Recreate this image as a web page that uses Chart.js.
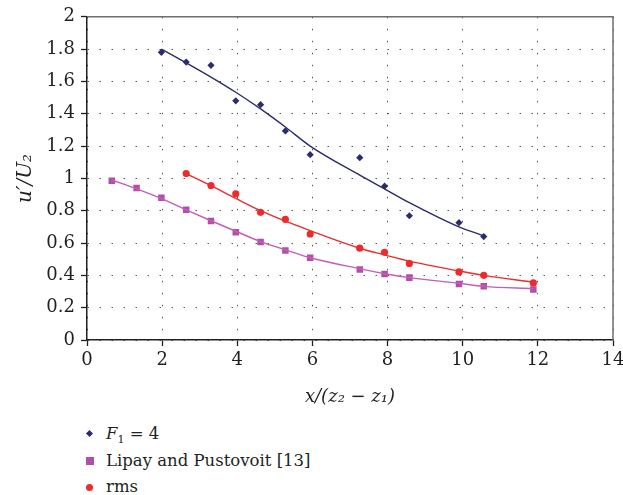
<!DOCTYPE html>
<html>
<head>
<meta charset="utf-8">
<script src="https://cdn.jsdelivr.net/npm/chart.js@4.4.1/dist/chart.umd.min.js"></script>
<style>
  body { margin: 0; background: #fff; }
  #wrap { position: relative; width: 623px; height: 495px; }
  #box { position: absolute; left: 0; top: 0; width: 623px; height: 408px; }
  #legend { position: absolute; left: 84px; top: 421px; font: 16.5px 'DejaVu Serif', serif; color: #231f20; }
  #legend div { height: 26.5px; line-height: 26px; white-space: nowrap; }
  #legend .mk { display: inline-block; width: 22px; position: relative; height: 10px; }
  #legend .mk span { position: absolute; left: 3px; top: 2px; }
  .dia { width: 5px; height: 5px; background: #2b2c6e; transform: rotate(45deg); }
  .sq { width: 8px; height: 8px; background: #b34ea6; left: 2px !important; top: 1px !important; }
  .ci { width: 7px; height: 7px; border-radius: 50%; background: #ee2a2a; left: 2px !important; top: 2px !important; }
  sub { font-size: 11px; }
</style>
</head>
<body>
<div id="wrap">
  <div id="box"><canvas id="myChart"></canvas></div>
  <div id="legend">
    <div><span class="mk"><span class="dia"></span></span><i>F</i><sub>1</sub> = 4</div>
    <div><span class="mk"><span class="sq"></span></span>Lipay and Pustovoit [13]</div>
    <div><span class="mk"><span class="ci"></span></span>rms</div>
  </div>
</div>
<script>
// tick labels
let xTickLabels = ['0', '2', '4', '6', '8', '10', '12', '14']
let yTickLabels = ['0', '0.2', '0.4', '0.6', '0.8', '1', '1.2', '1.4', '1.6', '1.8', '2']

// F1 = 4 measurements
let f1X = [1.98, 2.64, 3.30, 3.96, 4.62, 5.28, 5.94, 7.26, 7.92, 8.58, 9.90, 10.56]
let f1Y = [1.78, 1.72, 1.70, 1.48, 1.456, 1.294, 1.147, 1.128, 0.952, 0.769, 0.726, 0.64]
let f1FitY = [1.80, 1.715, 1.627, 1.533, 1.43, 1.318, 1.20, 1.02, 0.935, 0.85, 0.70, 0.645]

// Lipay and Pustovoit [13]
let lipX = [0.66, 1.32, 1.98, 2.64, 3.30, 3.96, 4.62, 5.28, 5.94, 7.26, 7.92, 8.58, 9.90, 10.56, 11.88]
let lipY = [0.985, 0.94, 0.88, 0.806, 0.736, 0.667, 0.607, 0.554, 0.509, 0.437, 0.408, 0.386, 0.347, 0.332, 0.312]
let lipFitY = [0.99, 0.935, 0.875, 0.806, 0.738, 0.673, 0.609, 0.558, 0.509, 0.441, 0.41, 0.386, 0.351, 0.332, 0.318]

// rms
let rmsX = [2.64, 3.30, 3.96, 4.62, 5.28, 5.94, 7.26, 7.92, 8.58, 9.90, 10.56, 11.88]
let rmsY = [1.03, 0.956, 0.905, 0.79, 0.747, 0.656, 0.568, 0.543, 0.474, 0.421, 0.40, 0.353]
let rmsFitY = [1.03, 0.955, 0.876, 0.80, 0.735, 0.677, 0.568, 0.527, 0.488, 0.427, 0.40, 0.357]

function pts(xs, ys) {
  return xs.map((x, i) => ({x: x, y: ys[i]}))
}

const navy = '#2b2c6e'
const pink = '#b34ea6'
const red = '#ee2a2a'
const serif = "'DejaVu Serif', serif"

// top and right frame of the plot box
const frame = {
  id: 'frame',
  afterDraw(chart) {
    let a = chart.chartArea
    let ctx = chart.ctx
    ctx.save()
    ctx.strokeStyle = '#6d6e71'
    ctx.lineWidth = 1.5
    ctx.beginPath()
    ctx.moveTo(a.left, a.top)
    ctx.lineTo(a.right, a.top)
    ctx.lineTo(a.right, a.bottom)
    ctx.stroke()
    ctx.restore()
  }
}

let fitLine = (data, color) => ({
  data: data, showLine: true, cubicInterpolationMode: 'monotone', borderColor: color,
  borderWidth: 1.4, pointRadius: 0, fill: false
})

let ctx = document.getElementById('myChart').getContext('2d')
let myChart = new Chart(ctx, {
  type: 'scatter',
  data: {
    datasets: [
      fitLine(pts(f1X, f1FitY), navy),
      fitLine(pts(lipX, lipFitY), '#c35db8'),
      fitLine(pts(rmsX, rmsFitY), red),
      { label: 'F1 = 4', data: pts(f1X, f1Y), pointStyle: 'rectRot', pointRadius: 3.6, backgroundColor: navy, borderWidth: 0 },
      { label: 'Lipay and Pustovoit [13]', data: pts(lipX, lipY), pointStyle: 'rect', pointRadius: 4.6, backgroundColor: pink, borderWidth: 0 },
      { label: 'rms', data: pts(rmsX, rmsY), pointStyle: 'circle', pointRadius: 3.6, backgroundColor: red, borderWidth: 0 }
    ]
  },
  options: {
    responsive: true,
    maintainAspectRatio: false,
    animation: false,
    layout: { padding: { top: 6, right: 0, left: 0, bottom: 0 } },
    plugins: { legend: { display: false }, tooltip: { enabled: false } },
    scales: {
      x: {
        type: 'linear', min: 0, max: 14,
        afterFit: (s) => { s.height = 68; s.paddingRight = 10 },
        ticks: { stepSize: 2, color: '#231f20', font: { family: serif, size: 18 }, padding: 4,
          callback: (v, i) => xTickLabels[i] },
        grid: { color: '#555', lineWidth: 1, tickLength: 6, tickColor: '#231f20', tickBorderDash: [], tickWidth: 1.3 },
        border: { color: '#231f20', width: 1.5, dash: [1.5, 10.5] },
        title: { display: true, text: 'x/(z\u2082 \u2212 z\u2081)', color: '#231f20',
          font: { family: serif, size: 18, style: 'italic' }, padding: { top: 6, bottom: 0 } }
      },
      y: {
        min: 0, max: 2,
        afterFit: (s) => { s.width = 87 },
        ticks: { stepSize: 0.2, color: '#231f20', font: { family: serif, size: 18 }, padding: 6,
          callback: (v, i) => yTickLabels[i] },
        grid: { color: '#555', lineWidth: 1, tickLength: 6, tickColor: '#231f20', tickBorderDash: [], tickWidth: 1.3 },
        border: { color: '#231f20', width: 1.5, dash: [1.5, 10.5] },
        title: { display: true, text: 'u\u2032/U\u2082', color: '#231f20',
          font: { family: serif, size: 20, style: 'italic' }, padding: { top: 14, bottom: 4 } }
      }
    }
  },
  plugins: [frame]
})
</script>
</body>
</html>
